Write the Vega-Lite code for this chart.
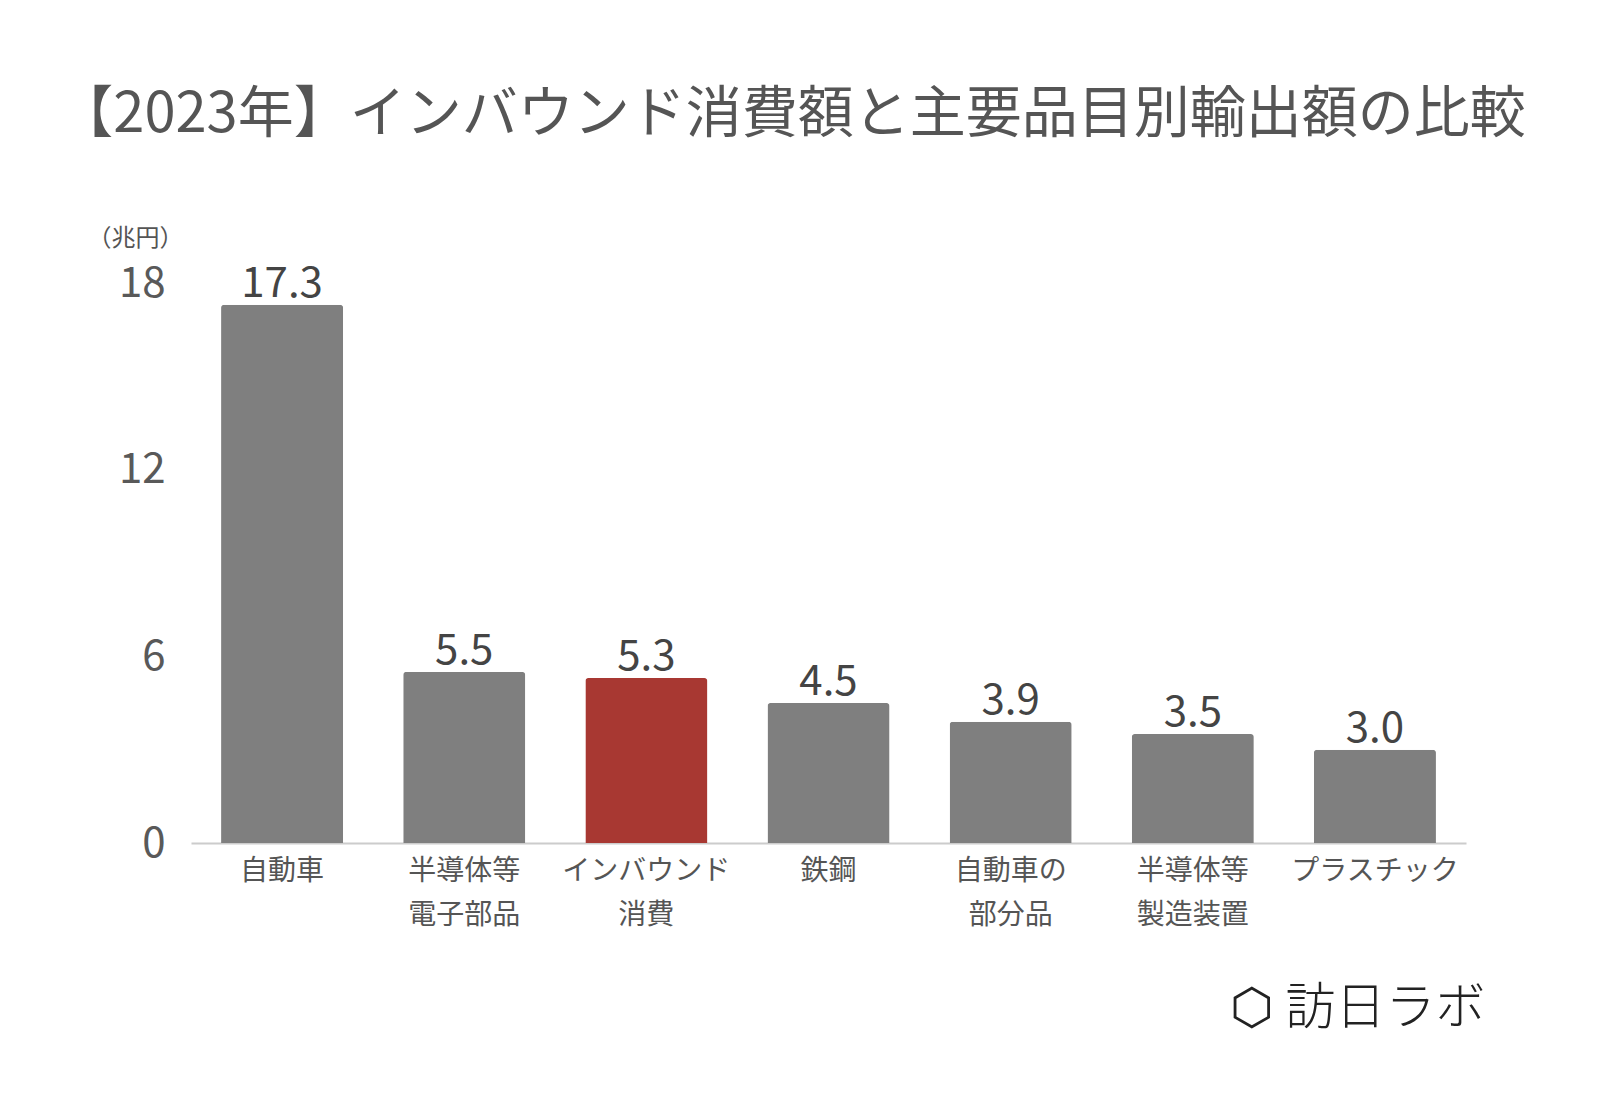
{
  "$schema": "https://vega.github.io/schema/vega-lite/v6.json",
  "autosize": "none",
  "width": 1275,
  "height": 560,
  "padding": {"left": 191, "top": 283, "right": 134, "bottom": 276},
  "background": "white",
  "config": {"view": {"stroke": null}, "font": "Noto Sans CJK JP"},
  "title": {
    "text": "【2023年】インバウンド消費額と主要品目別輸出額の比較",
    "font": "Noto Sans CJK JP",
    "fontSize": 56,
    "fontWeight": "normal",
    "color": "#555555",
    "anchor": "middle",
    "frame": "group",
    "dx": -37,
    "offset": 82
  },
  "data": {
    "values": [
      {"item": "自動車", "value": 17.3, "group": "export"},
      {"item": "半導体等 電子部品", "value": 5.5, "group": "export"},
      {"item": "インバウンド 消費", "value": 5.3, "group": "inbound"},
      {"item": "鉄鋼", "value": 4.5, "group": "export"},
      {"item": "自動車の 部分品", "value": 3.9, "group": "export"},
      {"item": "半導体等 製造装置", "value": 3.5, "group": "export"},
      {"item": "プラスチック", "value": 3.0, "group": "export"}
    ]
  },
  "encoding": {
    "x": {
      "field": "item",
      "type": "nominal",
      "sort": null,
      "scale": {"paddingInner": 0.33, "paddingOuter": 0.165},
      "axis": {
        "title": "⬡ 訪日ラボ",
        "titleFont": "Noto Sans CJK JP",
        "titleFontSize": 50,
        "titleFontWeight": 300,
        "titleColor": "#222222",
        "titleAnchor": "end",
        "titleAlign": "right",
        "titleBaseline": "middle",
        "titleX": 1294,
        "titleY": 165,
        "labelExpr": "split(datum.label, ' ')",
        "labelAngle": 0,
        "labelFontSize": 28,
        "labelColor": "#555555",
        "labelLineHeight": 44,
        "labelPadding": 14,
        "labelBaseline": "top",
        "ticks": false,
        "domainColor": "#cccccc",
        "domainWidth": 2
      }
    },
    "y": {
      "field": "value",
      "type": "quantitative",
      "scale": {"domain": [0, 18], "nice": false},
      "axis": {
        "values": [0, 6, 12, 18],
        "title": "（兆円）",
        "titleAngle": 0,
        "titleFontSize": 24,
        "titleFontWeight": "normal",
        "titleColor": "#555555",
        "titleAlign": "center",
        "titleBaseline": "middle",
        "titleX": -56,
        "titleY": -45,
        "labelFontSize": 42,
        "labelColor": "#595959",
        "labelPadding": 26,
        "grid": false,
        "domain": false,
        "ticks": false
      }
    }
  },
  "layer": [
    {
      "mark": {"type": "bar", "cornerRadiusTopLeft": 3, "cornerRadiusTopRight": 3},
      "encoding": {
        "color": {
          "field": "group",
          "type": "nominal",
          "scale": {"domain": ["export", "inbound"], "range": ["#7f7f7f", "#a83832"]},
          "legend": null
        }
      }
    },
    {
      "mark": {"type": "text", "baseline": "alphabetic", "dy": -8, "fontSize": 42, "color": "#444444"},
      "encoding": {
        "text": {"field": "value", "type": "quantitative", "format": ".1f"}
      }
    }
  ]
}
